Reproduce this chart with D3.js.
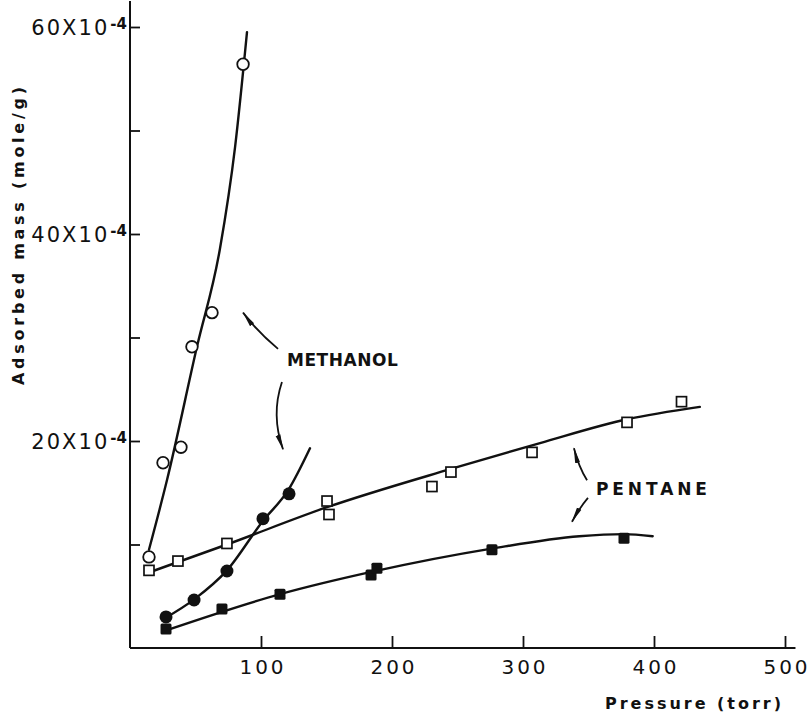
<!DOCTYPE html>
<html><head><meta charset="utf-8">
<script src="https://cdn.jsdelivr.net/npm/d3@7"></script>
<style>body{margin:0;background:#fff}svg{display:block}text{font-family:"DejaVu Sans",sans-serif;fill:#111}</style>
</head><body>
<svg id="c" width="810" height="713"></svg>
<script>
// ---- data (pressure in torr, adsorbed mass in 1e-4 mole/g) ----
const methanolOpenP = [14.5, 25.2, 38.9, 47.3, 62.6, 86.3];
const methanolOpenV = [8.8, 17.9, 19.4, 29.1, 32.4, 56.4];
const methanolOpenCurveP = [14.5, 28.2, 51.1, 68.7, 80.2, 89.3];
const methanolOpenCurveV = [9.5, 16.2, 29.1, 38.6, 48.4, 59.5];

const methanolFilledP = [27.5, 48.9, 74.0, 101.5, 121.4];
const methanolFilledV = [3.0, 4.64, 7.44, 12.5, 14.9];
const methanolFilledCurveP = [27.0, 49.0, 74.0, 101.0, 121.0, 137.4];
const methanolFilledCurveV = [2.9, 4.7, 7.5, 12.2, 15.3, 19.3];

const pentaneOpenP = [14.5, 36.6, 74.0, 150.4, 151.9, 230.5, 245.0, 306.9, 379.4, 421.0];
const pentaneOpenV = [7.5, 8.4, 10.1, 14.2, 12.9, 15.6, 17.0, 18.9, 21.8, 23.8];
const pentaneOpenCurveP = [14.5, 74.0, 150.4, 245.0, 313.0, 379.4, 435.0];
const pentaneOpenCurveV = [7.3, 10.0, 13.6, 17.3, 19.8, 22.1, 23.3];

const pentaneFilledP = [27.5, 70.2, 114.5, 184.0, 188.5, 276.3, 377.1];
const pentaneFilledV = [1.84, 3.77, 5.2, 7.05, 7.7, 9.5, 10.6];
const pentaneFilledCurveP = [27.5, 114.5, 186.0, 276.0, 343.0, 377.0, 399.0];
const pentaneFilledCurveV = [1.7, 5.2, 7.4, 9.6, 10.8, 11.0, 10.8];

const xTicks = [100, 200, 300, 400, 500];
const yTicks = [10, 20, 30, 40, 50, 60];
const yLabelled = [20, 40, 60];

const xTitle = "Pressure (torr)";
const yTitle = "Adsorbed mass (mole/g)";

// annotations: [text, p, v]
const labels = [["METHANOL", 119.8, 27.2], ["PENTANE", 355.7, 14.8]];
// arrows: [fromP, fromV, ctrlP, ctrlV, tipP, tipV]
const arrows = [
  [113, 28.9, 97, 30.6, 86.3, 32.4],
  [116, 25.7, 107.5, 22.5, 116.8, 19.2],
  [348.9, 16.2, 342.5, 17.5, 338.9, 19.3],
  [349.6, 14.5, 343.5, 13.6, 337.4, 12.2]
];

// ---- drawing ----
const svg = d3.select("#c");
const x = d3.scaleLinear().domain([0, 500]).range([130, 785]);
const y = d3.scaleLinear().domain([0, 60]).range([648, 27]);
const ink = "#111";

// axes lines
svg.append("line").attr("x1", x(0)).attr("x2", x(508)).attr("y1", y(0)).attr("y2", y(0))
  .attr("stroke", ink).attr("stroke-width", 2);
svg.append("line").attr("x1", x(0)).attr("x2", x(0)).attr("y1", y(0)).attr("y2", y(62.5))
  .attr("stroke", ink).attr("stroke-width", 2);

const gx = svg.append("g").attr("transform", `translate(0,${y(0)})`)
  .call(d3.axisBottom(x).tickValues(xTicks).tickSize(-12).tickPadding(12).tickFormat(d3.format("d")));
gx.select(".domain").remove();
gx.selectAll(".tick line").attr("stroke", ink).attr("stroke-width", 1.8);
gx.selectAll(".tick text").attr("font-size", 20).attr("fill", ink)
  .attr("font-family", "DejaVu Sans").attr("textLength", 44).attr("lengthAdjust", "spacing");

const gy = svg.append("g").attr("transform", `translate(${x(0)},0)`)
  .call(d3.axisLeft(y).tickValues(yTicks).tickSize(-10).tickPadding(5).tickFormat(() => ""));
gy.select(".domain").remove();
gy.selectAll(".tick line").attr("stroke", ink).attr("stroke-width", 1.8);
gy.selectAll(".tick text").each(function (d) {
  const t = d3.select(this);
  if (!yLabelled.includes(d)) return;
  t.attr("font-size", 21).attr("fill", ink).attr("x", -3).attr("dy", "0.38em");
  t.append("tspan").attr("textLength", 76).attr("lengthAdjust", "spacing").text(d + "X10");
  t.append("tspan").attr("dx", 1).attr("dy", "-0.45em").attr("font-size", 15).attr("font-weight", "bold").text("-4");
});

// titles
svg.append("text").attr("x", 605).attr("y", 709)
  .attr("font-size", 16).attr("font-weight", "bold").attr("textLength", 176).attr("lengthAdjust", "spacing").text(xTitle);
svg.append("text").attr("transform", "translate(24,385) rotate(-90)")
  .attr("font-size", 16).attr("font-weight", "bold").attr("textLength", 298).attr("lengthAdjust", "spacing").text(yTitle);

// curves
const line = d3.line().x(d => x(d[0])).y(d => y(d[1])).curve(d3.curveMonotoneX);
function drawCurve(ps, vs) {
  svg.append("path").datum(d3.zip(ps, vs)).attr("d", line)
    .attr("fill", "none").attr("stroke", ink).attr("stroke-width", 2.4).attr("stroke-linecap", "round");
}
drawCurve(methanolOpenCurveP, methanolOpenCurveV);
drawCurve(methanolFilledCurveP, methanolFilledCurveV);
drawCurve(pentaneOpenCurveP, pentaneOpenCurveV);
drawCurve(pentaneFilledCurveP, pentaneFilledCurveV);

// markers
svg.append("g").selectAll("circle").data(d3.zip(methanolOpenP, methanolOpenV)).join("circle")
  .attr("cx", d => x(d[0])).attr("cy", d => y(d[1])).attr("r", 5.8)
  .attr("fill", "#fff").attr("stroke", ink).attr("stroke-width", 1.8);
svg.append("g").selectAll("circle").data(d3.zip(methanolFilledP, methanolFilledV)).join("circle")
  .attr("cx", d => x(d[0])).attr("cy", d => y(d[1])).attr("r", 6.5).attr("fill", ink);
svg.append("g").selectAll("rect").data(d3.zip(pentaneOpenP, pentaneOpenV)).join("rect")
  .attr("x", d => x(d[0]) - 5).attr("y", d => y(d[1]) - 5).attr("width", 10).attr("height", 10)
  .attr("fill", "#fff").attr("stroke", ink).attr("stroke-width", 1.7);
svg.append("g").selectAll("rect").data(d3.zip(pentaneFilledP, pentaneFilledV)).join("rect")
  .attr("x", d => x(d[0]) - 5.5).attr("y", d => y(d[1]) - 5.5).attr("width", 11).attr("height", 11)
  .attr("rx", 1.5).attr("fill", ink);

// annotation labels
svg.append("g").selectAll("text").data(labels).join("text")
  .attr("x", d => x(d[1])).attr("y", d => y(d[2]))
  .attr("font-size", 17).attr("font-weight", "bold").attr("textLength", 111).attr("lengthAdjust", "spacing")
  .text(d => d[0]);

// arrows
const defs = svg.append("defs");
defs.append("marker").attr("id", "ah").attr("viewBox", "0 0 16 8").attr("refX", 15).attr("refY", 4)
  .attr("markerWidth", 16).attr("markerHeight", 8).attr("markerUnits", "userSpaceOnUse")
  .attr("orient", "auto")
  .append("path").attr("d", "M0,1.5 L16,4 L0,6.5 Z").attr("fill", ink);
svg.append("g").selectAll("path").data(arrows).join("path")
  .attr("d", d => {
    const p = d3.path();
    p.moveTo(x(d[0]), y(d[1]));
    p.quadraticCurveTo(x(d[2]), y(d[3]), x(d[4]), y(d[5]));
    return p.toString();
  })
  .attr("fill", "none").attr("stroke", ink).attr("stroke-width", 1.8).attr("marker-end", "url(#ah)");
</script>
</body></html>
